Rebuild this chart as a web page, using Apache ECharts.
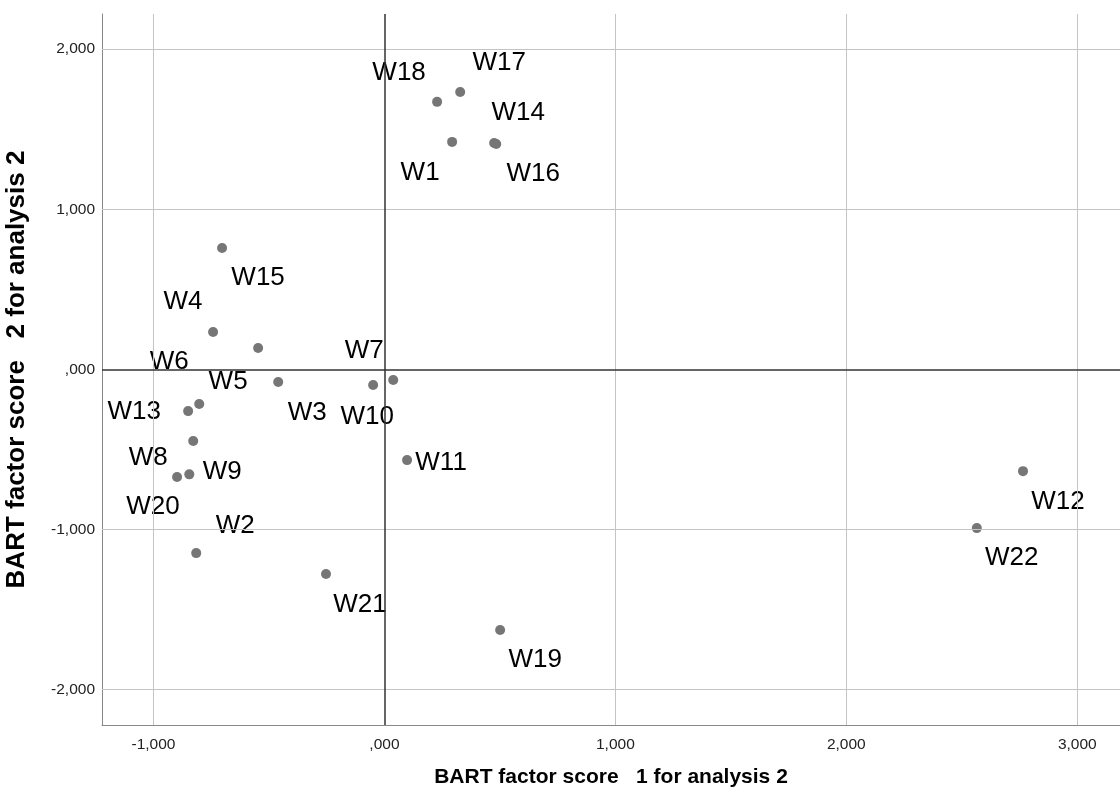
<!DOCTYPE html>
<html>
<head>
<meta charset="utf-8">
<script src="https://cdn.jsdelivr.net/npm/echarts@6/dist/echarts.min.js"></script>
<style>
  html, body { margin: 0; padding: 0; background: #fff; }
  #chart { width: 1120px; height: 805px; }
</style>
</head>
<body>
<div id="chart"></div>
<script>
// case names and factor scores
const names = ['W1', 'W2', 'W3', 'W4', 'W5', 'W6', 'W7', 'W8', 'W9', 'W10', 'W11',
  'W12', 'W13', 'W14', 'W15', 'W16', 'W17', 'W18', 'W19', 'W20', 'W21', 'W22']
const score1 = [0.293, -0.815, -0.460, -0.742, -0.547, -0.802, 0.038, -0.828, -0.845, -0.049, 0.098,
  2.765, -0.850, 0.475, -0.703, 0.484, 0.328, 0.228, 0.501, -0.898, -0.253, 2.565]
const score2 = [1.421, -1.148, -0.079, 0.233, 0.133, -0.217, -0.067, -0.448, -0.656, -0.098, -0.567,
  -0.636, -0.261, 1.414, 0.758, 1.408, 1.733, 1.671, -1.629, -0.673, -1.279, -0.992]

// tick values
const xTicks = [-1, 0, 1, 2, 3]
const yTicks = [-2, -1, 0, 1, 2]

// where each label sits relative to its point (px)
const labelOffset = {
  W1: [-32, 31], W2: [39, -27], W3: [29, 31], W4: [-30, -30], W5: [-30, 34],
  W6: [-30, -42], W7: [-29, -29], W8: [-45, 17], W9: [33, -3], W10: [-6, 32],
  W11: [34, 3], W12: [35, 31], W13: [-54, 1], W14: [24, -30], W15: [36, 30],
  W16: [37, 30], W17: [39, -29], W18: [-38, -29], W19: [35, 30], W20: [-24, 30],
  W21: [34, 31], W22: [35, 30],
}

const font = '"Liberation Sans", Arial, sans-serif'
// 1,000 style numbers (comma as decimal sign, no leading zero)
const fmt = v => {
  let s = Math.abs(v).toFixed(3).replace('.', ',')
  if (s.startsWith('0')) s = s.slice(1)
  return (v < 0 ? '-' : '') + s
}

const points = names.map((n, i) => ({
  value: [score1[i], score2[i]],
  name: n,
  label: { offset: labelOffset[n] },
}))

const gridLine = { color: '#c4c4c4', width: 1, type: 'solid' }
const zeroLine = { color: '#333', width: 1.5, type: 'solid' }

const chart = echarts.init(document.getElementById('chart'))
chart.setOption({
  animation: false,
  grid: { left: 102, right: 0, top: 14, bottom: 80, outerBoundsMode: 'none', containLabel: false },
  xAxis: {
    type: 'value',
    min: -1.223,
    max: 3.185,
    name: 'BART factor score   1 for analysis 2',
    nameLocation: 'middle',
    nameGap: 42,
    nameTextStyle: { fontFamily: font, fontSize: 21, fontWeight: 'bold', color: '#000' },
    axisLine: { show: true, onZero: false, lineStyle: { color: '#888', width: 1 } },
    axisTick: { show: false },
    splitLine: { show: false },
    axisLabel: {
      customValues: xTicks,
      formatter: fmt,
      margin: 12,
      fontFamily: font,
      fontSize: 15.5,
      color: '#222',
    },
  },
  yAxis: {
    type: 'value',
    min: -2.222,
    max: 2.22,
    name: 'BART factor score   2 for analysis 2',
    nameLocation: 'middle',
    nameGap: 72,
    nameTextStyle: { fontFamily: font, fontSize: 26, fontWeight: 'bold', color: '#000' },
    axisLine: { show: true, onZero: false, lineStyle: { color: '#888', width: 1 } },
    axisTick: { show: false },
    splitLine: { show: false },
    axisLabel: {
      customValues: yTicks,
      formatter: fmt,
      margin: 7,
      fontFamily: font,
      fontSize: 15.5,
      color: '#222',
    },
  },
  series: [
    {
      // light grid lines, under the labels
      type: 'scatter',
      data: [],
      z: 1,
      markLine: {
        silent: true,
        symbol: 'none',
        label: { show: false },
        lineStyle: gridLine,
        data: [
          ...xTicks.filter(v => v !== 0).map(v => ({ xAxis: v })),
          ...yTicks.filter(v => v !== 0).map(v => ({ yAxis: v })),
        ],
      },
    },
    {
      type: 'scatter',
      data: points,
      z: 2,
      symbol: 'circle',
      symbolSize: 10,
      itemStyle: { color: '#767676', opacity: 1 },
      label: {
        show: true,
        position: 'inside',
        formatter: '{b}',
        fontFamily: font,
        fontSize: 26,
        color: '#000',
        backgroundColor: '#fff',
        padding: [1, 2],
      },
    },
    {
      // reference lines at zero, on top
      type: 'scatter',
      data: [],
      z: 3,
      markLine: {
        silent: true,
        symbol: 'none',
        label: { show: false },
        lineStyle: zeroLine,
        data: [{ xAxis: 0 }, { yAxis: 0 }],
      },
    },
  ],
})
</script>
</body>
</html>
